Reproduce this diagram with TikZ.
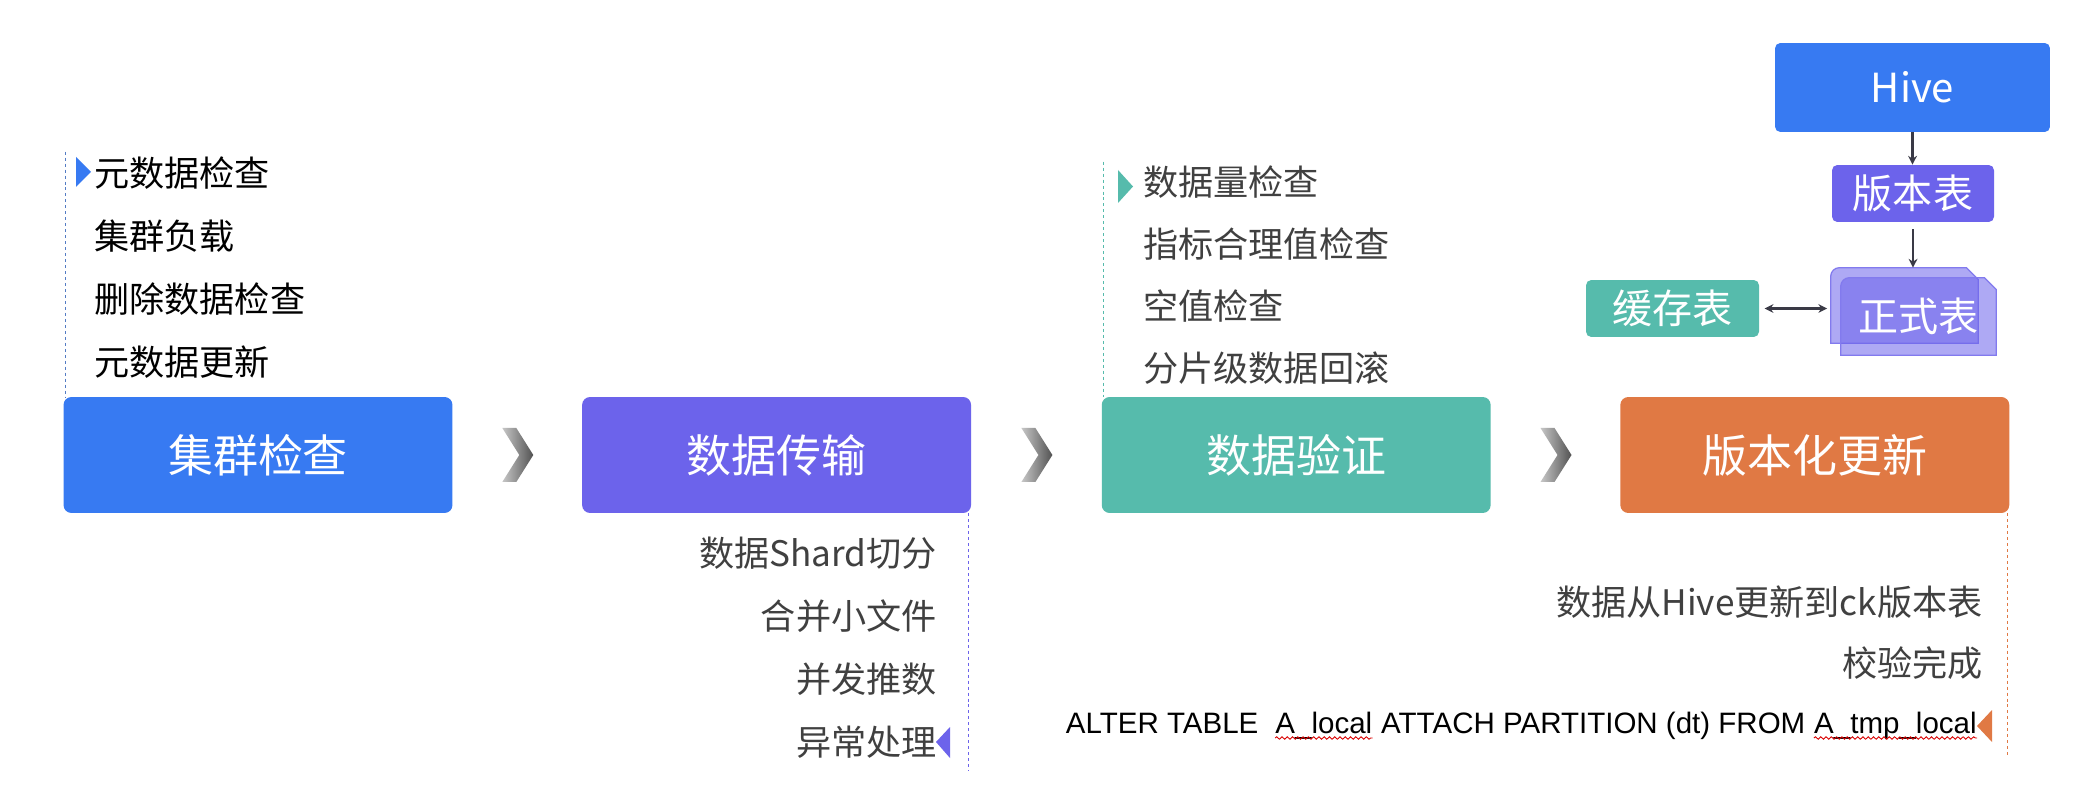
\documentclass[tikz,border=0pt]{standalone}
\usepackage{fontspec}
\setmainfont{Noto Sans CJK SC}
\newfontfamily\sqlfont{Liberation Sans}
\usetikzlibrary{positioning,calc,arrows.meta,decorations.pathmorphing}
\definecolor{stepblue}{RGB}{55,122,242}
\definecolor{steppurple}{RGB}{108,99,235}
\definecolor{stepteal}{RGB}{86,187,172}
\definecolor{steporange}{RGB}{224,121,68}
\definecolor{itemgray}{RGB}{64,64,64}
\definecolor{arrowgray}{RGB}{58,58,70}

\begin{document}
\begin{tikzpicture}[x=0.02cm,y=-0.02cm,
    stage/.style={fill=#1, rounded corners=4.5pt, minimum width=7.78cm, minimum height=2.32cm, text=white, font=\fontsize{25.6}{30}\selectfont},
    tbl/.style={fill=#1, rounded corners=3pt, text=white, font=\fontsize{22.8}{26}\selectfont},
    item/.style={inner sep=0pt, text=itemgray, font=\fontsize{20}{24}\selectfont},
    sql/.style={inner sep=0pt, text=black, font=\sqlfont\fontsize{16.8}{20}\selectfont},
    guide/.style={draw=#1, dash pattern=on 1.7pt off 1.7pt, line width=0.6pt},
    sheet/.style={fill=steppurple, fill opacity=0.55, draw=steppurple!85, line width=0.7pt},
    link/.style={arrowgray, line width=1.2pt, -{Stealth[length=5pt,width=5pt]}},
    squiggle/.style={red!85!black, line width=0.5pt, decorate, decoration={snake, amplitude=0.7pt, segment length=3pt}}]
\fill[white] (0,0) rectangle (2096,810);
\useasboundingbox (0,0) rectangle (2096,810);

% stages
\node[stage=stepblue] (check) at (258,455) {集群检查};
\node[stage=steppurple, right=2.58cm of check] (transfer) {数据传输};
\node[stage=stepteal, right=2.6cm of transfer] (verify) {数据验证};
\node[stage=steporange, right=2.58cm of verify] (release) {版本化更新};

\foreach \a/\b in {check/transfer,transfer/verify,verify/release}
  \shade[left color=black!22, right color=black!68] ($(\a.east)!0.5!(\b.west)$) ++(-15,-27) -- ++(14,0) -- ++(17,27) -- ++(-17,27) -- ++(-14,0) -- ++(17,-27) -- cycle;

% cluster check
\foreach \t [count=\i] in {元数据检查,集群负载,删除数据检查,元数据更新}
  \node[item, text=black, anchor=west] (ck\i) at (94,{173+63*(\i-1)}) {\t};
\fill[stepblue] ($(ck1.west)+(-18,-16)$) -- ($(ck1.west)+(-18,14)$) -- ($(ck1.west)+(-3,-1)$) -- cycle;
\draw[guide=stepblue!60!gray] ($(check.north west)+(2,-245)$) -- ($(check.north west)+(2,0)$);

% transfer
\foreach \t [count=\i] in {数据Shard切分,合并小文件,并发推数,异常处理}
  \node[item, anchor=east] (tr\i) at (937,{553+63*(\i-1)}) {\t};
\fill[steppurple] ($(tr4.east)+(13,-15)$) -- ($(tr4.east)+(13,16)$) -- ($(tr4.east)+(-1,0)$) -- cycle;
\draw[guide=steppurple] ($(transfer.south east)+(-3,0)$) -- ++(0,257);

% verify
\foreach \t [count=\i] in {数据量检查,指标合理值检查,空值检查,分片级数据回滚}
  \node[item, anchor=west] (vf\i) at (1143,{182+62*(\i-1)}) {\t};
\fill[stepteal] ($(vf1.west)+(-25,-12)$) -- ($(vf1.west)+(-25,21)$) -- ($(vf1.west)+(-10,4.5)$) -- cycle;
\draw[guide=stepteal] ($(verify.north west)+(2,-235)$) -- ($(verify.north west)+(2,0)$);

% release
\node[item, anchor=east] (rl1) at (1983,602) {数据从Hive更新到ck版本表};
\node[item, anchor=east] (rl2) at (1983,663) {校验完成};
\node[sql, anchor=base east] (sql4) at (1977,733) {A\_tmp\_local};
\node[sql, anchor=base east] (sql3) at (sql4.base west) {\null~ATTACH PARTITION (dt) FROM~\null};
\node[sql, anchor=base east] (sql2) at (sql3.base west) {A\_local};
\node[sql, anchor=base east] (sql1) at (sql2.base west) {ALTER TABLE~~\null};
\draw[squiggle] ($(sql2.base west)+(0,5)$) -- ($(sql2.base east)+(0,5)$);
\draw[squiggle] ($(sql4.base west)+(0,5)$) -- ($(sql4.base east)+(0,5)$);
\fill[steporange] ($(sql4.base east)+(15,-23)$) -- ($(sql4.base east)+(15,9)$) -- ($(sql4.base east)+(0,-7)$) -- cycle;
\draw[guide=steporange] ($(release.south east)+(-2,0)$) -- ++(0,242);

% tables
\node[tbl=stepblue, minimum width=5.5cm, minimum height=1.78cm] (hive) at (1912.5,87.5) {Hive};
\node[tbl=steppurple, minimum width=3.24cm, minimum height=1.14cm] (vtable) at (1913,193.5) {版本表};
\node[tbl=stepteal, minimum width=3.46cm, minimum height=1.14cm] (cache) at (1672.5,308.5) {缓存表};
\node[minimum width=2.94cm, minimum height=1.5cm, inner sep=0pt] (formalback) at (1904.5,305.5) {};
\node[minimum width=3.1cm, minimum height=1.54cm, inner sep=0pt] (formal) at (1918.5,316.5) {};
\foreach \n in {formalback,formal}
  \filldraw[sheet] (\n.south west) [rounded corners=5pt] -- (\n.north west) [sharp corners] -- ($(\n.north east)+(-12,0)$) -- ($(\n.north east)+(0,12)$) -- (\n.south east) -- cycle;
\node[text=white, font=\fontsize{22.8}{26}\selectfont] (formaltext) at (formal) {正式表};

\draw[link] (hive.south) -- (hive.south |- vtable.north);
\draw[link, shorten <=4pt] (vtable.south) -- (vtable.south |- formalback.north);
\draw[link, {Stealth[length=5pt,width=5pt]}-{Stealth[length=5pt,width=5pt]}, shorten <=3pt, shorten >=2pt] (cache.east) -- (cache.east -| formalback.west);
\end{tikzpicture}
\end{document}
